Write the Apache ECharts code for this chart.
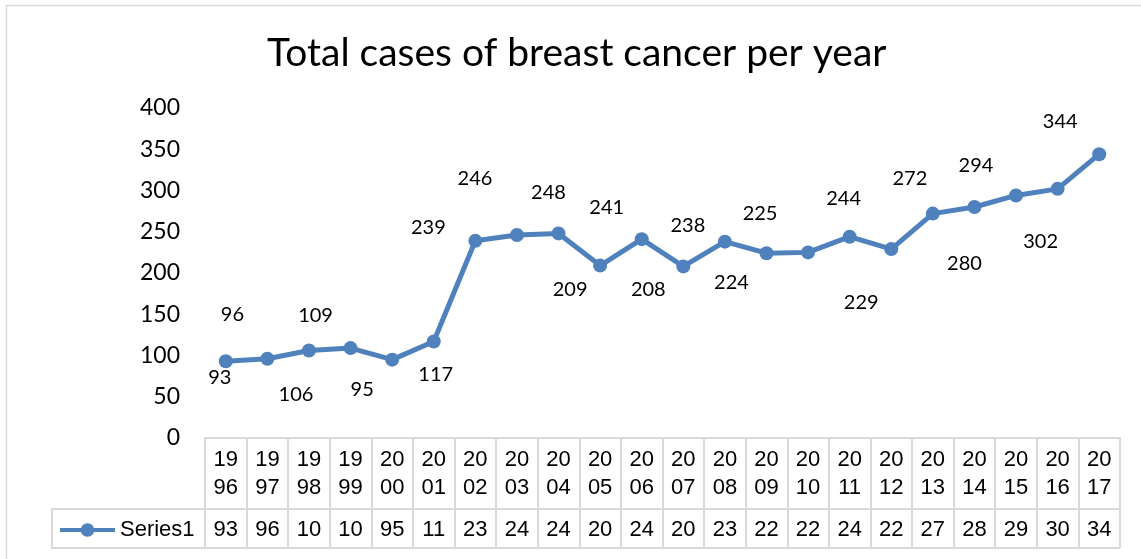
<!DOCTYPE html>
<html>
<head>
<meta charset="utf-8">
<script src="https://cdn.jsdelivr.net/npm/echarts@6/dist/echarts.min.js"></script>
<style>
  html, body { margin: 0; padding: 0; background: #fff; }
  #chart { width: 1141px; height: 559px; }
</style>
</head>
<body>
<div id="chart"></div>
<script>
const years = ["1996", "1997", "1998", "1999", "2000", "2001", "2002", "2003", "2004", "2005", "2006",
  "2007", "2008", "2009", "2010", "2011", "2012", "2013", "2014", "2015", "2016", "2017"]
const cases = [93, 96, 106, 109, 95, 117, 239, 246, 248, 209, 241, 208, 238, 224, 225, 244, 229, 272, 280, 294, 302, 344]
const yTicks = [0, 50, 100, 150, 200, 250, 300, 350, 400]
const seriesName = "Series1"

// hand-placed data labels in the original, nudged relative to their point (px)
const labelNudge = [[-6, 16], [-35, -44], [-13, 44], [-35, -33], [-30, 30], [2, 33], [-47, -13], [-42, -57],
  [-10, -41], [-30, 24], [-35, -32], [-35, 23], [-37, -16], [-35, 29], [-48, -39], [-6, -38],
  [-30, 53], [-23, -35], [-10, 57], [-40, -30], [-17, 53], [-39, -33]]

const blue = "#4f81bd"
const gridGray = "#d9d9d9"
const tableFont = "'Liberation Sans', Arial, sans-serif"
const chartFont = "Lato, 'Open Sans', sans-serif"

const chart = echarts.init(document.getElementById("chart"))
chart.setOption({
  animation: false,
  title: {
    text: "Total cases of breast cancer per year",
    left: 262,
    top: 29,
    textStyle: { fontFamily: chartFont, fontSize: 39, fontWeight: "normal", color: "#000" }
  },
  legend: {
    data: [seriesName],
    left: 53,
    top: 514,
    itemWidth: 55,
    itemHeight: 17,
    itemStyle: { color: blue },
    lineStyle: { color: blue, width: 4 },
    textStyle: { fontFamily: tableFont, fontSize: 22, color: "#000" }
  },
  grid: { left: 205, right: 21, top: 108, bottom: 121, outerBoundsMode: "none" },
  xAxis: [
    {
      type: "category",
      data: years,
      boundaryGap: true,
      position: "bottom",
      axisLine: { show: true, lineStyle: { color: gridGray, width: 2 } },
      axisTick: { show: true, interval: 0, length: 71, lineStyle: { color: gridGray, width: 2 } },
      axisLabel: {
        interval: 0,
        margin: 8,
        fontFamily: tableFont,
        fontSize: 22,
        lineHeight: 28,
        color: "#000",
        formatter: v => v.slice(0, 2) + "\n" + v.slice(2)
      },
      splitLine: { show: false }
    },
    {
      type: "category",
      data: years,
      boundaryGap: true,
      position: "bottom",
      offset: 71,
      axisLine: { show: true, lineStyle: { color: gridGray, width: 2 } },
      axisTick: { show: true, interval: 0, length: 39, lineStyle: { color: gridGray, width: 2 } },
      axisLabel: {
        interval: 0,
        margin: 8,
        fontFamily: tableFont,
        fontSize: 22,
        lineHeight: 26,
        color: "#000",
        // the data table cells are too narrow, so the values get clipped to two digits
        formatter: (v, i) => String(cases[i]).slice(0, 2)
      },
      splitLine: { show: false }
    }
  ],
  yAxis: {
    type: "value",
    min: yTicks[0],
    max: yTicks[yTicks.length - 1],
    interval: 50,
    axisLine: { show: false },
    axisTick: { show: false },
    splitLine: { show: false },
    axisLabel: { margin: 25, fontFamily: chartFont, fontSize: 23, color: "#000" }
  },
  series: [
    {
      name: seriesName,
      type: "line",
      xAxisIndex: 0,
      data: cases.map((v, i) => ({ value: v, label: { offset: labelNudge[i] } })),
      symbol: "circle",
      symbolSize: 14,
      lineStyle: { color: blue, width: 5 },
      itemStyle: { color: blue },
      label: {
        show: true,
        position: "inside",
        formatter: "{c}",
        fontFamily: chartFont,
        fontSize: 20,
        color: "#000"
      }
    }
  ],
  graphic: [
    {
      type: "rect",
      shape: { x: 6.5, y: 5.5, width: 1300, height: 700 },
      style: { fill: null, stroke: gridGray, lineWidth: 1.5 },
      silent: true
    },
    {
      type: "polyline",
      shape: { points: [[1120, 548], [52, 548], [52, 509], [205, 509]] },
      style: { fill: null, stroke: gridGray, lineWidth: 2 },
      silent: true
    }
  ]
})
</script>
</body>
</html>
